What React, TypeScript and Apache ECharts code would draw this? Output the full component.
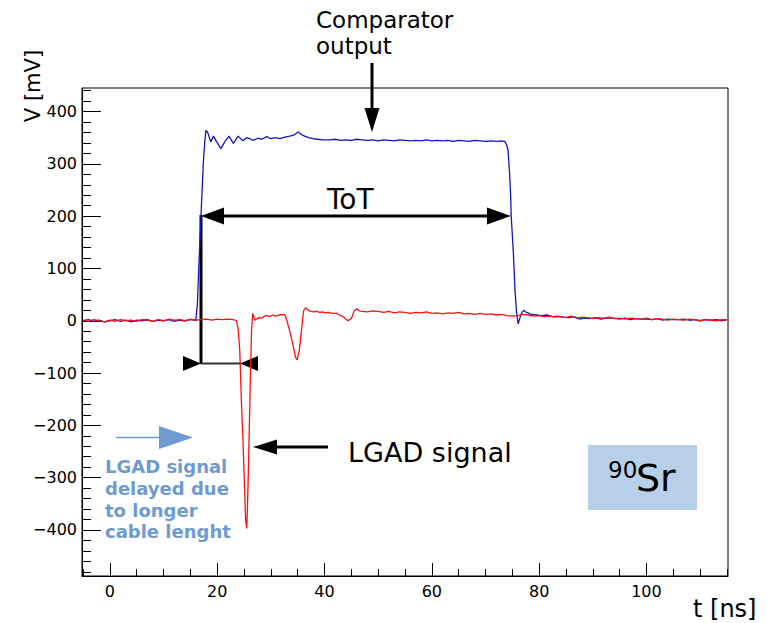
import React, { useEffect, useRef } from "react";
import * as echarts from "echarts";

// Comparator output (blue): time [ns] and voltage [mV]
const comparatorT = [-5,-4,-3,-2,-1,0,1,2,3,4,5,6,7,8,9,10,11,12,13,14,15,16,16.3,16.6,16.9,17.1,17.4,17.7,17.9,18.1,18.3,18.8,19.3,19.9,20.7,21.4,22.2,23.0,23.9,24.8,25.5,26.1,26.8,27.5,28.3,29.2,30.0,30.8,31.7,32.6,33.5,34.3,35.1,35.7,36.3,37.0,37.9,38.8,39.8,41,42,43,44,45,46,47,48,49,50,51,52,53,54,55,56,57,58,59,60,61,62,63,64,65,66,67,68,69,70,71,72,73,73.6,74.0,74.2,74.5,74.7,74.8,75.0,75.2,75.5,75.8,76.1,76.4,76.8,77.2,77.6,77.9,78.5,79.5,80.5,81.4,82.5,83.5,84.5,85.5,86.5,87.6,88.5,89.5,90.5,91.5,92.5,93.8,95,96,97,98,99,100,101,102,103,104,105,106,107,108,109,110,111,112,113,114,115];
const comparatorV = [0,2,-1,1,-2,0,2,-1,1,-2,1,0,2,-1,1,0,2,-1,1,0,2,1,30,110,180,230,300,345,364,362,358,342,353,342,329,342,353,339,353,344,350,348,345,349,347,352,348,350,348,351,353,355,361,356,353,350,348,347,346,346,347,345,346,345,347,346,345,346,344,346,345,344,346,345,344,345,344,346,344,345,344,345,343,345,344,343,345,344,343,344,343,344,343,335,326,280,237,199,165,129,59,14,-6,5,16,20,16,15,12,11,10,11,8,9,7,6,8,3,5,4,6,3,5,5,3,5,2,4,3,3,2,4,1,3,2,2,3,1,2,0,2,1,2,0,2];

// LGAD signal (red)
const lgadT = [-5,-4,-3,-2,-1,0,1,2,3,4,5,6,7,8,9,10,11,12,13,14,15,16,17,18,19,20,21,22,23,23.6,23.9,24.2,24.5,24.8,25.1,25.3,25.5,25.6,25.8,26.0,26.2,26.4,26.6,26.8,27.0,27.4,27.8,28.3,28.8,29.2,29.8,30.3,30.8,31.3,31.8,32.3,32.6,33.0,33.5,34.1,34.6,34.9,35.3,35.7,36.1,36.5,37.0,37.5,38.0,38.5,39.1,39.6,40.2,40.8,41.5,42.2,42.8,43.5,44.0,44.4,45.0,45.5,46.0,46.5,47,48,49,50,51,52,53,54,55,56,57,58,59,60,61,62,63,64,65,66,67,68,69,70,71,72,73,74,75,76,77,78,79,80,81,82,83,84,85,86,87,88,89,90,91,92,93,94,95,96,97,98,99,100,101,102,103,104,105,106,107,108,109,110,111,112,113,114,115];
const lgadV = [1,-1,2,0,-2,1,-1,2,0,1,-1,2,1,-1,2,0,3,1,2,0,3,1,2,3,1,3,2,3,2,0,-16,-56,-152,-228,-320,-381,-397,-370,-292,-196,-101,-18,14,8,1,4,6,5,9,10,8,11,9,10,12,11,12,0,-19,-45,-70,-75,-57,-19,19,25,20,18,17,18,16,17,15,16,14,14,11,8,3,0,4,18,23,19,18,17,19,18,16,18,15,17,16,14,16,15,17,14,15,13,15,14,16,13,14,12,14,12,13,11,12,10,9,10,12,11,9,10,8,9,7,8,6,9,5,7,6,4,6,5,7,4,5,3,5,4,3,5,2,4,3,1,3,2,1,3,2,0,2,1,0,2,1];

// Axis tick positions and labels
const xMajorTicks = [0, 20, 40, 60, 80, 100];
const xMinorTicks = [-5, 5, 10, 15, 25, 30, 35, 45, 50, 55, 65, 70, 75, 85, 90, 95, 105, 110, 115];
const yMajorTicks = [-400, -300, -200, -100, 0, 100, 200, 300, 400];
const yMinorTicks = [-480, -460, -440, -420, -380, -360, -340, -320, -280, -260, -240, -220, -180, -160, -140, -120, -80, -60, -40, -20, 20, 40, 60, 80, 120, 140, 160, 180, 220, 240, 260, 280, 320, 340, 360, 380, 420, 440];

const FONT = "'DejaVu Sans', sans-serif";
const NOTE_BLUE = "#6d9bd1";

const GRID_LEFT = 82, GRID_TOP = 88, GRID_RIGHT = 39, GRID_BOTTOM = 47;
const W = 767, H = 623;
const PLOT_W = W - GRID_LEFT - GRID_RIGHT;
const PLOT_H = H - GRID_TOP - GRID_BOTTOM;

export default function App() {
  const ref = useRef<HTMLDivElement>(null);
  useEffect(() => {
    if (!ref.current) return;
    const chart = echarts.init(ref.current, null, { renderer: "svg" });
    const xMin = -5.2, xMax = 115.2, yMin = -488, yMax = 445;
    const baseX = {
      type: "value" as const,
      min: xMin,
      max: xMax,
      splitLine: { show: false },
    };
    const baseY = {
      type: "value" as const,
      min: yMin,
      max: yMax,
      splitLine: { show: false },
    };
    // tick-only axes placed on the opposite side and shifted onto the frame, so ticks point into the plot
    const tickX = (vals: number[], len: number) => ({
      ...baseX,
      position: "top" as const,
      offset: -PLOT_H,
      axisLine: { show: false, onZero: false },
      axisTick: { show: true, inside: false, length: len, customValues: vals, lineStyle: { color: "#000" } },
      axisLabel: { show: false },
    });
    const tickY = (vals: number[], len: number) => ({
      ...baseY,
      position: "right" as const,
      offset: -PLOT_W,
      axisLine: { show: false, onZero: false },
      axisTick: { show: true, inside: false, length: len, customValues: vals, lineStyle: { color: "#000" } },
      axisLabel: { show: false },
    });
    const fmt = (v: number) => String(v).replace("-", "\u2212");
    const text = (t: string, x: number, y: number, size: number, extra: any = {}) => ({
      type: "text",
      x,
      y,
      style: {
        text: t,
        fontFamily: "DejaVu Sans",
        fontSize: size,
        fill: "#000",
        textAlign: "left",
        textVerticalAlign: "middle",
        ...extra,
      },
    });
    const line = (x1: number, y1: number, x2: number, y2: number, w: number, c = "#000") => ({
      type: "line",
      shape: { x1, y1, x2, y2 },
      style: { stroke: c, lineWidth: w },
    });
    const tri = (pts: number[][], c = "#000") => ({
      type: "polygon",
      shape: { points: pts },
      style: { fill: c },
    });

    chart.setOption({
      animation: false,
      backgroundColor: "#fff",
      grid: {
        left: GRID_LEFT,
        top: GRID_TOP,
        right: GRID_RIGHT,
        bottom: GRID_BOTTOM,
        show: true,
        borderColor: "#000",
        borderWidth: 1,
        containLabel: false,
      },
      xAxis: [
        {
          ...baseX,
          position: "bottom",
          offset: 0,
          axisLine: { show: true, onZero: false, lineStyle: { color: "#000", width: 1 } },
          axisTick: { show: false },
          axisLabel: {
            show: true,
            customValues: xMajorTicks,
            margin: 7,
            color: "#000",
            fontFamily: FONT,
            fontSize: 16,
            formatter: fmt,
          },
        },
        tickX(xMajorTicks, 13),
        tickX(xMinorTicks, 7),
      ],
      yAxis: [
        {
          ...baseY,
          position: "left",
          offset: 0,
          axisLine: { show: true, onZero: false, lineStyle: { color: "#000", width: 1 } },
          axisTick: { show: false },
          axisLabel: {
            show: true,
            customValues: yMajorTicks,
            margin: 5,
            color: "#000",
            fontFamily: FONT,
            fontSize: 16,
            formatter: fmt,
          },
        },
        tickY(yMajorTicks, 19),
        tickY(yMinorTicks, 9),
      ],
      series: [
        {
          name: "Comparator output",
          type: "line",
          xAxisIndex: 0,
          yAxisIndex: 0,
          showSymbol: false,
          symbol: "none",
          data: comparatorT.map((t, i) => [t, comparatorV[i]]),
          lineStyle: { color: "#1515c0", width: 1.3 },
          itemStyle: { color: "#1515c0" },
        },
        {
          name: "LGAD signal",
          type: "line",
          xAxisIndex: 0,
          yAxisIndex: 0,
          showSymbol: false,
          symbol: "none",
          data: lgadT.map((t, i) => [t, lgadV[i]]),
          lineStyle: { color: "#ff1010", width: 1.3 },
          itemStyle: { color: "#ff1010" },
        },
      ],
      graphic: [
        // axis titles
        {
          type: "text",
          x: 33,
          y: 86,
          rotation: Math.PI / 2,
          style: {
            text: "V [mV]",
            fontFamily: "DejaVu Sans",
            fontSize: 21,
            fill: "#000",
            textAlign: "center",
            textVerticalAlign: "middle",
          },
        },
        text("t [ns]", 693, 609, 24),
        // Comparator annotation
        text("Comparator", 316, 19.7, 23),
        text("output", 316, 45.7, 23),
        line(372, 63, 372, 110, 3),
        tri([[364.5, 108], [379.5, 108], [372, 132]]),
        // ToT arrow
        text("ToT", 327, 199, 28),
        line(222, 216, 489, 216, 3),
        tri([[201, 216], [224, 207.5], [224, 224.5]]),
        tri([[511, 216], [487, 207.5], [487, 224.5]]),
        line(201, 215, 201, 364, 3),
        // delay arrow
        line(201, 363.5, 241, 363.5, 2, "#333"),
        tri([[183, 356], [183, 371], [201, 363.5]]),
        tri([[240, 363.5], [258, 356], [258, 371]]),
        // LGAD signal arrow
        line(275, 447, 328, 447, 3),
        tri([[253, 447], [277, 439.5], [277, 454.5]]),
        text("LGAD signal", 348, 452, 27),
        // blue note
        line(116, 437.5, 162, 437.5, 1.5, NOTE_BLUE),
        tri([[159, 426], [159, 449], [193, 437.5]], NOTE_BLUE),
        text("LGAD signal", 105, 466.5, 18, { fontWeight: "bold", fill: NOTE_BLUE }),
        text("delayed due", 105, 488.5, 18, { fontWeight: "bold", fill: NOTE_BLUE }),
        text("to longer", 105, 510.5, 18, { fontWeight: "bold", fill: NOTE_BLUE }),
        text("cable lenght", 105, 531.5, 18, { fontWeight: "bold", fill: NOTE_BLUE }),
        // 90Sr box
        {
          type: "rect",
          shape: { x: 588, y: 445, width: 109, height: 65 },
          style: { fill: "#b8cfe8" },
        },
        text("90", 608, 470, 23),
        text("Sr", 636, 478, 38),
      ],
    });
    return () => chart.dispose();
  }, []);
  return (
    <div
      ref={ref}
      style={{ position: "fixed", left: 0, top: 0, width: W, height: H, background: "#fff" }}
    />
  );
}
